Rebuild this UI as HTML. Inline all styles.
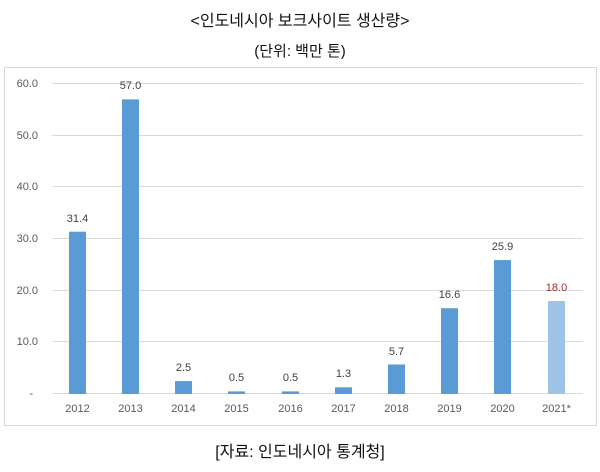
<!DOCTYPE html>
<html><head><meta charset="utf-8"><style>
body{margin:0;background:#fff;width:600px;height:467px;overflow:hidden;font-family:"Liberation Sans","Noto Sans CJK KR",sans-serif;}
</style></head><body>
<svg width="600" height="467" xmlns="http://www.w3.org/2000/svg" font-family="Liberation Sans, Noto Sans CJK KR, sans-serif">
<text x="300" y="26" text-anchor="middle" font-size="16" fill="#111">&lt;인도네시아 보크사이트 생산량&gt;</text>
<text x="300" y="56" text-anchor="middle" font-size="15" fill="#111">(단위: 백만 톤)</text>
<rect x="4.5" y="67.5" width="592" height="358" fill="none" stroke="#d9d9d9"/>
<g stroke="#d9d9d9" stroke-width="1">
<line x1="52" x2="583" y1="83.5" y2="83.5"/>
<line x1="52" x2="583" y1="135.5" y2="135.5"/>
<line x1="52" x2="583" y1="186.5" y2="186.5"/>
<line x1="52" x2="583" y1="238.5" y2="238.5"/>
<line x1="52" x2="583" y1="290.5" y2="290.5"/>
<line x1="52" x2="583" y1="341.5" y2="341.5"/>
<line x1="52" x2="583" y1="393.5" y2="393.5"/>
</g>
<g font-size="11" fill="#595959" text-anchor="end">
<text x="38" y="87">60.0</text><text x="38" y="139">50.0</text><text x="38" y="190">40.0</text>
<text x="38" y="242">30.0</text><text x="38" y="294">20.0</text><text x="38" y="345">10.0</text>
<text x="33" y="397">-</text>
</g>
<g fill="#5b9bd5">
<rect x="69" y="231.7" width="17" height="162.3"/>
<rect x="122" y="99.4" width="17" height="294.6"/>
<rect x="175" y="381.1" width="17" height="12.9"/>
<rect x="228" y="391.4" width="17" height="2.6"/>
<rect x="282" y="391.4" width="17" height="2.6"/>
<rect x="335" y="387.3" width="17" height="6.7"/>
<rect x="388" y="364.5" width="17" height="29.5"/>
<rect x="441" y="308.2" width="17" height="85.8"/>
<rect x="494" y="260.1" width="17" height="133.9"/>
<rect x="548" y="301" width="17" height="93" fill="#9dc3e6"/>
</g>
<g font-size="11" fill="#404040" text-anchor="middle">
<text x="77.5" y="222">31.4</text><text x="130.5" y="89">57.0</text><text x="183.5" y="371">2.5</text>
<text x="236.5" y="381">0.5</text><text x="290.5" y="381">0.5</text><text x="343.5" y="377">1.3</text>
<text x="396.5" y="355">5.7</text><text x="449.5" y="298">16.6</text><text x="502.5" y="250">25.9</text>
<text x="556.5" y="291" fill="#a52a2a">18.0</text>
</g>
<g font-size="11" fill="#595959" text-anchor="middle">
<text x="77.5" y="412">2012</text><text x="130.5" y="412">2013</text><text x="183.5" y="412">2014</text>
<text x="236.5" y="412">2015</text><text x="290.5" y="412">2016</text><text x="343.5" y="412">2017</text>
<text x="396.5" y="412">2018</text><text x="449.5" y="412">2019</text><text x="502.5" y="412">2020</text>
<text x="556.5" y="412">2021*</text>
</g>
<text x="300" y="457" text-anchor="middle" font-size="16" fill="#111">[자료: 인도네시아 통계청]</text>
</svg>
</body></html>
